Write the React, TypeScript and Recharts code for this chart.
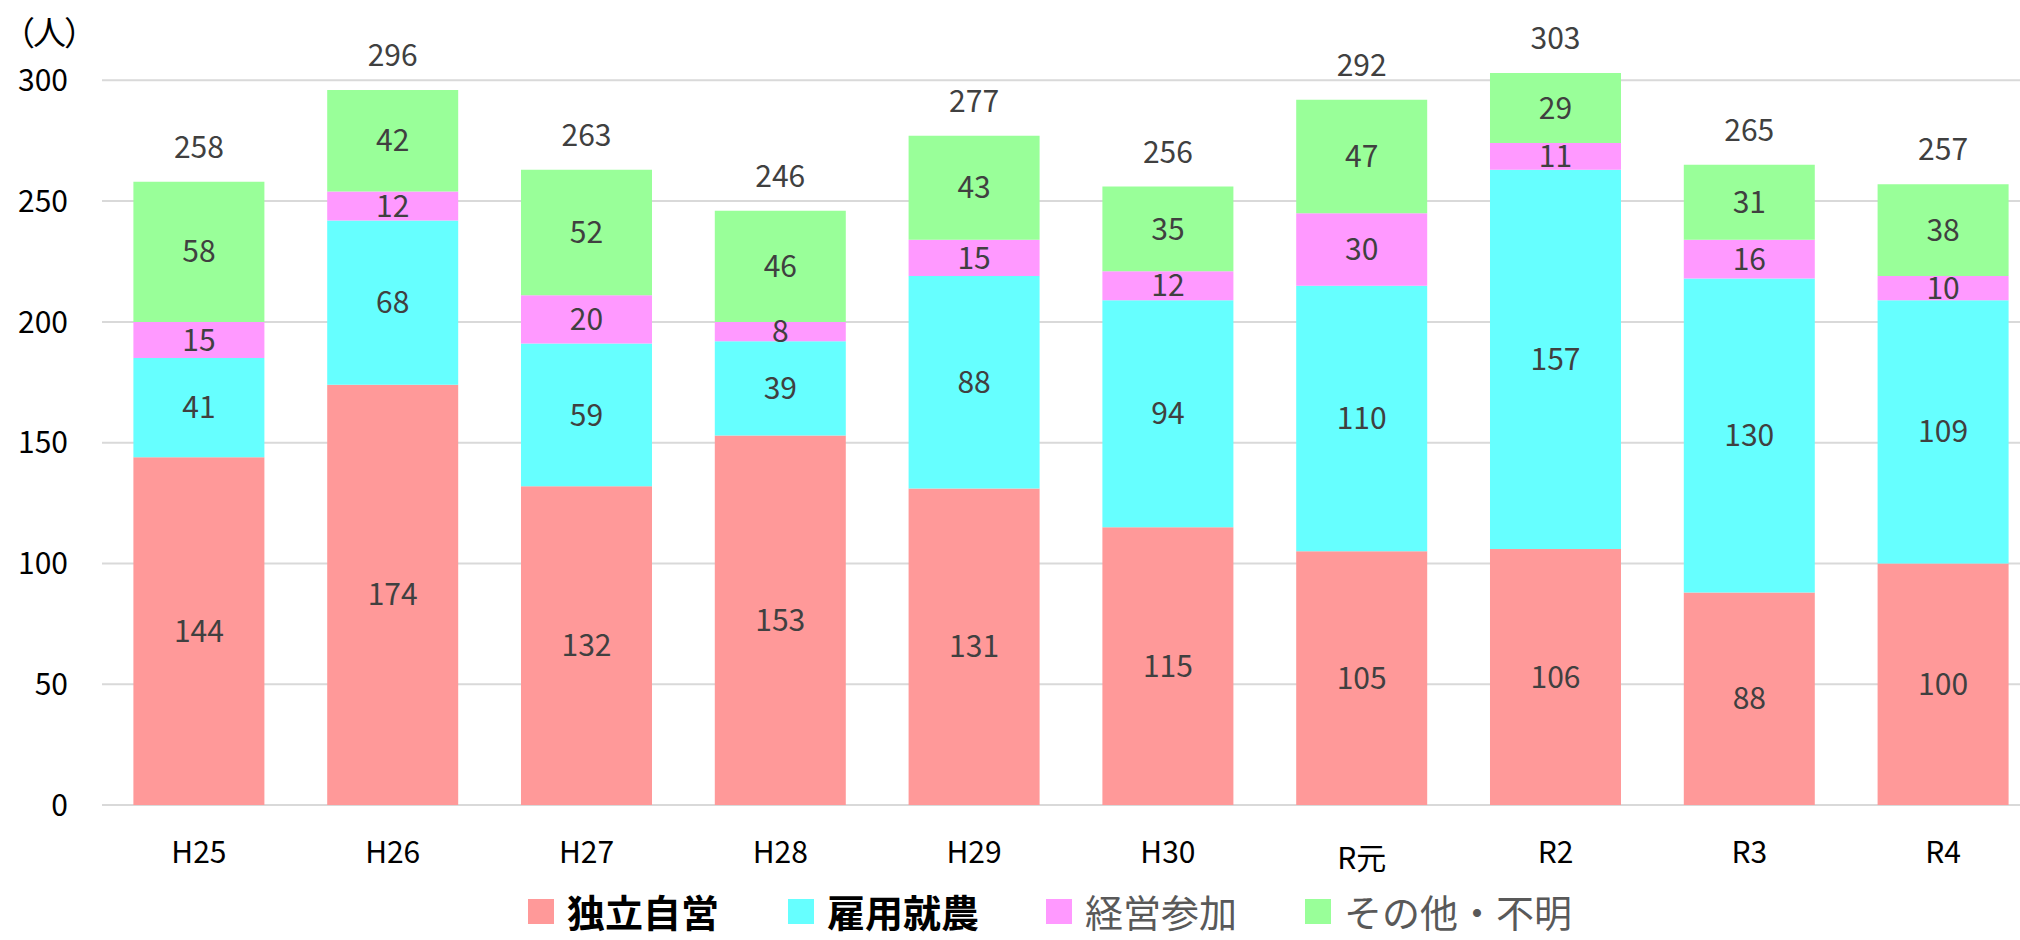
import { BarChart, Bar, XAxis, YAxis, CartesianGrid, LabelList } from 'recharts';

const years = ['H25', 'H26', 'H27', 'H28', 'H29', 'H30', 'R元', 'R2', 'R3', 'R4'];
const dokuritsu = [144, 174, 132, 153, 131, 115, 105, 106, 88, 100];
const koyou = [41, 68, 59, 39, 88, 94, 110, 157, 130, 109];
const keiei = [15, 12, 20, 8, 15, 12, 30, 11, 16, 10];
const sonota = [58, 42, 52, 46, 43, 35, 47, 29, 31, 38];
const yTicks = [0, 50, 100, 150, 200, 250, 300];

const seriesNames = ['独立自営', '雇用就農', '経営参加', 'その他・不明'];
const colors = ['#FF9999', '#66FFFF', '#FF99FF', '#99FF99'];

const FONT = '"Noto Sans CJK JP", "Noto Sans", sans-serif';

const chartData = years.map((year, i) => ({
  year,
  dokuritsu: dokuritsu[i],
  koyou: koyou[i],
  keiei: keiei[i],
  sonota: sonota[i],
  total: dokuritsu[i] + koyou[i] + keiei[i] + sonota[i],
}));

// 積み上げの合計を一番上に表示
const TotalLabel = (props: any) => {
  const { x, y, width, index } = props;
  return (
    <text
      x={Number(x) + Number(width) / 2}
      y={Number(y) - 37}
      textAnchor="middle"
      dominantBaseline="central"
      fontSize={30}
      fill="#404040"
      fontFamily={FONT}
    >
      {chartData[index].total}
    </text>
  );
};

const XTick = ({ x, y, payload }: any) => (
  <text
    x={x}
    y={y}
    dy={payload.value === 'R元' ? '0.9em' : '0.71em'}
    textAnchor="middle"
    fontSize={30}
    fill="#000"
    fontFamily={FONT}
  >
    {payload.value}
  </text>
);

const legendLeft = [528, 788, 1046, 1305];

export default function App() {
  const labelStyle = { fontSize: 30, fill: '#404040', fontFamily: FONT };
  return (
    <div
      style={{
        position: 'fixed',
        left: 0,
        top: 0,
        width: 2020,
        height: 940,
        overflow: 'hidden',
        background: '#fff',
        fontFamily: FONT,
      }}
    >
      <BarChart
        width={2045}
        height={940}
        data={chartData}
        margin={{ top: 32, right: 5, bottom: 0, left: 0 }}
        barCategoryGap="16.2%"
      >
        <CartesianGrid vertical={false} stroke="#d9d9d9" strokeWidth={2} horizontalValues={yTicks} />
        <XAxis
          dataKey="year"
          height={135}
          axisLine={false}
          tickLine={false}
          tickSize={0}
          tickMargin={37}
          tick={<XTick />}
          interval={0}
        />
        <YAxis
          width={102}
          domain={[0, 320]}
          ticks={yTicks}
          axisLine={false}
          tickLine={false}
          tickSize={0}
          tickMargin={34}
          tick={{ fontSize: 30, fill: '#000', fontFamily: FONT }}
        />
        <Bar dataKey="dokuritsu" stackId="a" fill={colors[0]} isAnimationActive={false}>
          <LabelList dataKey="dokuritsu" position="center" style={labelStyle} />
        </Bar>
        <Bar dataKey="koyou" stackId="a" fill={colors[1]} isAnimationActive={false}>
          <LabelList dataKey="koyou" position="center" style={labelStyle} />
        </Bar>
        <Bar dataKey="keiei" stackId="a" fill={colors[2]} isAnimationActive={false}>
          <LabelList dataKey="keiei" position="center" style={labelStyle} />
        </Bar>
        <Bar dataKey="sonota" stackId="a" fill={colors[3]} isAnimationActive={false}>
          <LabelList dataKey="sonota" position="center" style={labelStyle} />
          <LabelList dataKey="total" content={<TotalLabel />} />
        </Bar>
      </BarChart>

      <div
        style={{
          position: 'absolute',
          left: 2,
          top: 15,
          fontSize: 33,
          color: '#000',
          whiteSpace: 'nowrap',
          lineHeight: 1,
          letterSpacing: -2,
        }}
      >
        （人）
      </div>

      {seriesNames.map((name, i) => (
        <div
          key={name}
          style={{
            position: 'absolute',
            left: legendLeft[i],
            top: 891,
            height: 40,
            display: 'flex',
            alignItems: 'center',
            whiteSpace: 'nowrap',
          }}
        >
          <span style={{ display: 'inline-block', width: 26, height: 25, background: colors[i], marginRight: 13 }} />
          <span
            style={{
              fontSize: 38,
              lineHeight: '40px',
              fontWeight: i < 2 ? 700 : 400,
              color: i < 2 ? '#000' : '#595959',
            }}
          >
            {name}
          </span>
        </div>
      ))}
    </div>
  );
}
